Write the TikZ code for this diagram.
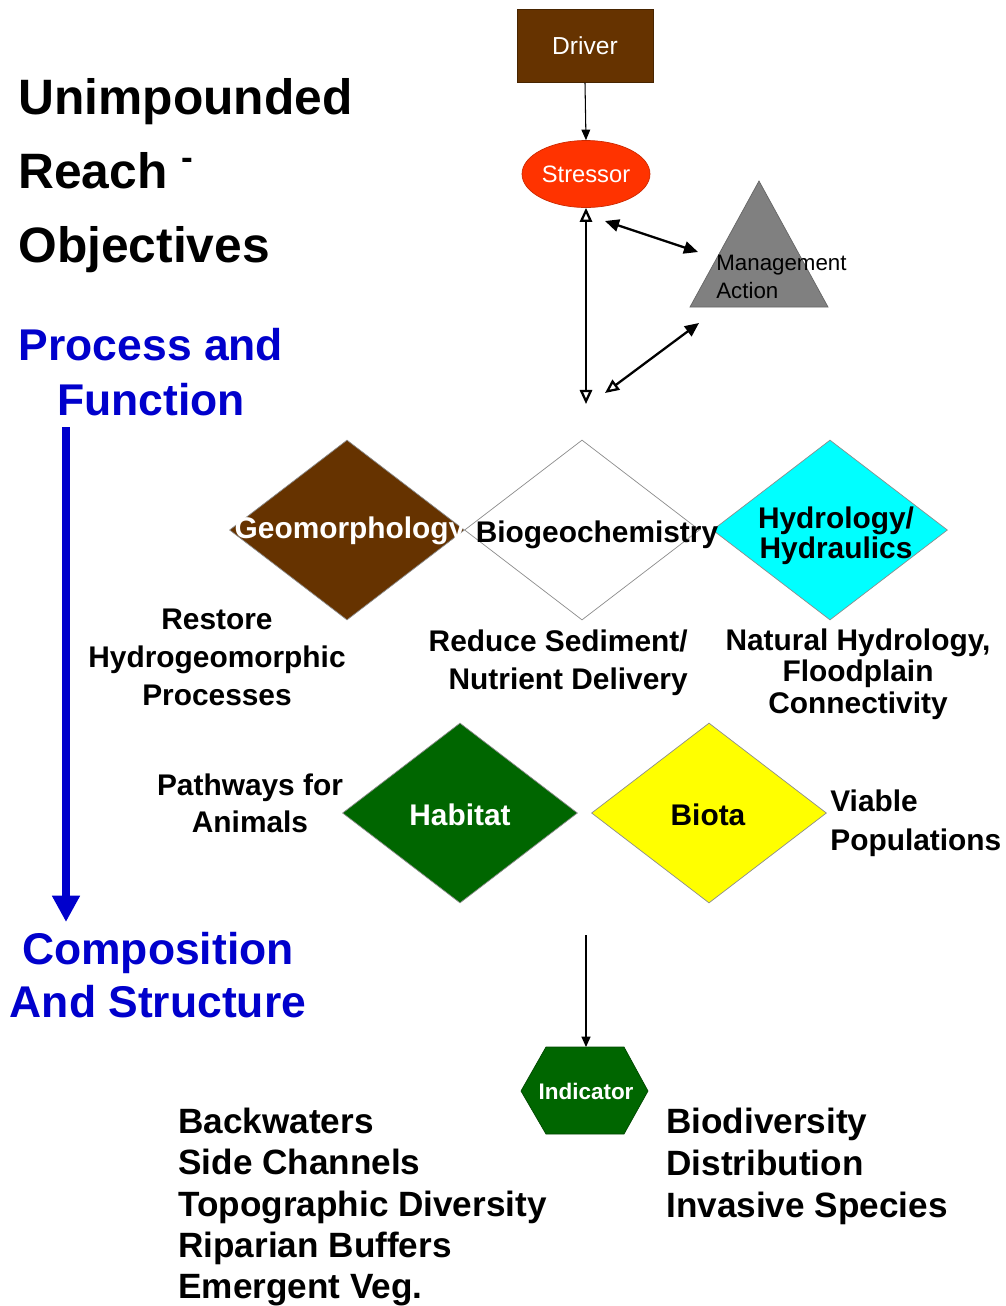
\documentclass[tikz,border=0pt]{standalone}
\usepackage{fontspec}
\setmainfont{Liberation Sans}
\usepackage{tikz}
\usetikzlibrary{shapes.geometric, arrows.meta, positioning}
\usepackage{xcolor}
\definecolor{drvbrown}{HTML}{663300}
\definecolor{stressred}{HTML}{FF3300}
\definecolor{mgmtgray}{HTML}{808080}
\definecolor{hydcyan}{HTML}{00FFFF}
\definecolor{habgreen}{HTML}{006600}
\definecolor{biotayellow}{HTML}{FFFF00}
\definecolor{headblue}{HTML}{0000CC}

\begin{document}
\begin{tikzpicture}[x=0.02cm, y=-0.02cm,
    diam/.style={diamond, minimum width=4.7cm, minimum height=3.6cm,
                inner sep=0pt, draw=black!45, line width=0.4pt},
    dlabel/.style={font=\fontsize{17pt}{17pt}\selectfont\bfseries,
                inner sep=0pt, align=center},
    notetext/.style={font=\fontsize{17pt}{21.5pt}\selectfont\bfseries, inner sep=0pt},
    heading/.style={font=\fontsize{25.3pt}{31pt}\selectfont\bfseries,
                text=headblue, inner sep=0pt, align=center},
    listtext/.style={font=\fontsize{20pt}{23.4pt}\selectfont\bfseries,
                inner sep=0pt, align=left, anchor=north west},
    thinarrow/.style={-{Triangle[length=6pt,width=5pt]}, line width=0.6pt},
    duoarrow/.style={{Triangle[open,length=8pt,width=7pt]}-{Triangle[open,length=8pt,width=7pt]},
                line width=1.3pt},
    bluearrow/.style={-{Triangle[length=15pt,width=15pt]}, line width=5pt, draw=headblue}
]
\useasboundingbox (0,0) rectangle (1005,1306);

%% ---- TITLE AND SIDE HEADINGS ----
\node [anchor=north west, inner sep=0pt, align=left,
       font=\fontsize{28.3pt}{42.2pt}\selectfont\bfseries] (title) at (18,78)
      {Unimpounded\\Reach {\fontsize{20pt}{20pt}\selectfont\raisebox{11pt}{-}}\\Objectives};
\node [heading, anchor=north] (procfunc) at (151,328) {Process and\\Function};
\node [heading, anchor=north, font=\fontsize{25.3pt}{30pt}\selectfont\bfseries] (compstruct) at (158,932)
      {Composition\\And Structure};

\coordinate (pfTop) at (66,427);
\coordinate (csTop) at (66,922);
\draw [bluearrow] (pfTop) -- (csTop);

%% ---- DRIVER / STRESSOR / MANAGEMENT ----
\node [rectangle, fill=drvbrown, draw=drvbrown!70!black, minimum width=2.72cm,
       minimum height=1.46cm, text=white, font=\fontsize{14pt}{14pt}\selectfont] (driver) at (585,46) {Driver};
\node [ellipse, fill=stressred, draw=stressred!80!black, minimum width=2.56cm,
       minimum height=1.34cm, inner sep=0pt, text=white,
       font=\fontsize{13.5pt}{13.5pt}\selectfont] (stressor) at (586,174) {Stressor};

\filldraw [fill=mgmtgray, draw=black!60, line width=0.4pt] (759,181) -- (828,307) -- (690,307) -- cycle;
\node [anchor=north west, inner sep=0pt, align=left,
       font=\fontsize{12.7pt}{15.9pt}\selectfont] (mgmt) at (716,255) {Management\\Action};

\coordinate (stressorNE) at (605,221);
\coordinate (mgmtNW)     at (698,252);
\coordinate (mgmtSW)     at (699,323);
\coordinate (hubNE)      at (605,393);
\coordinate (hub)        at (586,404);

\draw [thinarrow] (driver.south) -- (stressor.north);
\draw [duoarrow] (stressor.south) -- (hub);
\draw [{Triangle[length=8pt,width=7pt]}-{Triangle[length=8pt,width=7pt]}, line width=1.3pt]
      (stressorNE) -- (mgmtNW);
\draw [{Triangle[open,length=8pt,width=7pt]}-{Triangle[length=8pt,width=7pt]}, line width=1.3pt]
      (hubNE) -- (mgmtSW);

%% ---- PROCESS DIAMONDS ----
\node [diam, fill=drvbrown]    (geo)   at (347,530) {};
\node [diam, fill=white]       (bgc)   at (582,530) {};
\node [diam, fill=hydcyan]     (hyd)   at (830,530) {};
\node [dlabel, text=white] (geotxt) at (350,531) {Geomorphology};
\node [dlabel]             (bgctxt) at (597,535) {Biogeochemistry};
\node [dlabel]             (hydtxt) at (836,536) {Hydrology/\\Hydraulics};

\node [notetext, anchor=north, align=center] (restore) at (217,609)
      {Restore\\Hydrogeomorphic\\Processes};
\node [notetext, anchor=north east, align=right, font=\fontsize{17pt}{22.1pt}\selectfont\bfseries] (reduce) at (688,629)
      {Reduce Sediment/\\Nutrient Delivery};
\node [notetext, anchor=north, align=center, font=\fontsize{17pt}{18.1pt}\selectfont\bfseries] (natural) at (858,628)
      {Natural Hydrology,\\Floodplain\\Connectivity};

%% ---- STRUCTURE DIAMONDS ----
\node [diam, fill=habgreen]    (habitat) at (460,813) {};
\node [diam, fill=biotayellow] (biota)   at (709,813) {};
\node [dlabel, text=white] (habtxt)   at (460,815) {Habitat};
\node [dlabel]             (biotatxt) at (708,815) {Biota};

\node [notetext, anchor=north, align=center] (pathways) at (250,773) {Pathways for\\Animals};
\node [notetext, anchor=north west, align=left, font=\fontsize{17pt}{22.7pt}\selectfont\bfseries] (viable) at (830,789)
      {Viable\\Populations};

%% ---- INDICATOR ----
\filldraw [fill=habgreen, draw=habgreen!70!black, line width=0.4pt]
      (521,1091) -- (546,1047) -- (624,1047) -- (648,1091) -- (624,1134) -- (546,1134) -- cycle;
\node [minimum height=1.74cm, inner sep=0pt, text=white,
       font=\fontsize{12.8pt}{12.8pt}\selectfont\bfseries] (indicator) at (586,1091) {Indicator};
\coordinate (flow) at (586,935);
\draw [thinarrow, line width=1.1pt] (flow) -- (indicator.north);

\node [listtext] (physical) at (178,1108)
      {Backwaters\\Side Channels\\Topographic Diversity\\Riparian Buffers\\Emergent Veg.};
\node [listtext, font=\fontsize{20pt}{23.8pt}\selectfont\bfseries] (biologic) at (666,1108)
      {Biodiversity\\Distribution\\Invasive Species};

\end{tikzpicture}
\end{document}
